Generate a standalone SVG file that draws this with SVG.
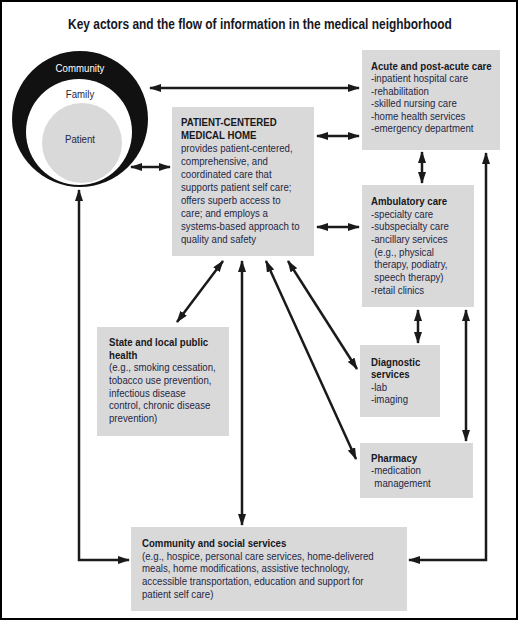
<svg xmlns="http://www.w3.org/2000/svg" width="519" height="621" viewBox="0 0 519 621">
<style>
.box{fill:#d9d9d9}
.t{font-family:"Liberation Sans",Arial,sans-serif;font-size:11.5px;fill:#1f2744}
.b{font-weight:bold;fill:#17171c}
.ln{fill:none;stroke:#1a1a1a;stroke-width:2.5}
</style>
<defs>
<marker id="ah" markerUnits="userSpaceOnUse" markerWidth="12" markerHeight="8" refX="11" refY="4" orient="auto-start-reverse" viewBox="0 0 12 8">
<path d="M0,0 L12,4 L0,8 Z" fill="#1a1a1a"/>
</marker>
</defs>
<rect x="1" y="1" width="516" height="618" fill="#fff" stroke="#000" stroke-width="2"/>
<text transform="translate(260,29) scale(0.77,1)" text-anchor="middle" font-family="Liberation Sans,Arial,sans-serif" font-weight="bold" font-size="15.5" fill="#17171c">Key actors and the flow of information in the medical neighborhood</text>

<g id="circles">
<circle cx="80" cy="119" r="68" fill="#111"/>
<circle cx="79" cy="132" r="53" fill="#fff"/>
<circle cx="82" cy="143" r="40" fill="#d9d9d9"/>
<text class="t" text-anchor="middle" style="fill:#fff" transform="translate(80,72) scale(0.84,1)">Community</text>
<text class="t" text-anchor="middle" transform="translate(80,98) scale(0.84,1)">Family</text>
<text class="t" text-anchor="middle" transform="translate(80,143) scale(0.84,1)">Patient</text>
</g>

<g id="acute">
<rect class="box" x="362" y="50" width="138" height="100"/>
<text class="t" transform="translate(371,70) scale(0.84,1)">
<tspan class="b" x="0" y="0">Acute and post-acute care</tspan>
<tspan x="0" y="12.5">-inpatient hospital care</tspan>
<tspan x="0" y="25">-rehabilitation</tspan>
<tspan x="0" y="37.5">-skilled nursing care</tspan>
<tspan x="0" y="50">-home health services</tspan>
<tspan x="0" y="62.5">-emergency department</tspan>
</text>
</g>

<g id="pcmh">
<rect class="box" x="172" y="107" width="142" height="149"/>
<text class="t" transform="translate(181,126) scale(0.84,1)">
<tspan class="b" x="0" y="0">PATIENT-CENTERED</tspan>
<tspan class="b" x="0" y="13">MEDICAL HOME</tspan>
<tspan x="0" y="26">provides patient-centered,</tspan>
<tspan x="0" y="39">comprehensive, and</tspan>
<tspan x="0" y="52">coordinated care that</tspan>
<tspan x="0" y="65">supports patient self care;</tspan>
<tspan x="0" y="78">offers superb access to</tspan>
<tspan x="0" y="91">care; and employs a</tspan>
<tspan x="0" y="104">systems-based approach to</tspan>
<tspan x="0" y="117">quality and safety</tspan>
</text>
</g>

<g id="ambulatory">
<rect class="box" x="362" y="185" width="112" height="122"/>
<text class="t" transform="translate(371,205) scale(0.84,1)">
<tspan class="b" x="0" y="0">Ambulatory care</tspan>
<tspan x="0" y="12.7">-specialty care</tspan>
<tspan x="0" y="25.4">-subspecialty care</tspan>
<tspan x="0" y="38.1">-ancillary services</tspan>
<tspan x="4" y="50.8">(e.g., physical</tspan>
<tspan x="4" y="63.5">therapy, podiatry,</tspan>
<tspan x="4" y="76.2">speech therapy)</tspan>
<tspan x="0" y="88.9">-retail clinics</tspan>
</text>
</g>

<g id="public-health">
<rect class="box" x="97" y="327" width="132" height="109"/>
<text class="t" transform="translate(109,346) scale(0.84,1)">
<tspan class="b" x="0" y="0">State and local public</tspan>
<tspan class="b" x="0" y="12.7">health</tspan>
<tspan x="0" y="25.4">(e.g., smoking cessation,</tspan>
<tspan x="0" y="38.1">tobacco use prevention,</tspan>
<tspan x="0" y="50.8">infectious disease</tspan>
<tspan x="0" y="63.5">control, chronic disease</tspan>
<tspan x="0" y="76.2">prevention)</tspan>
</text>
</g>

<g id="diagnostic">
<rect class="box" x="360" y="345" width="80" height="72"/>
<text class="t" transform="translate(371,366) scale(0.84,1)">
<tspan class="b" x="0" y="0">Diagnostic</tspan>
<tspan class="b" x="0" y="12.5">services</tspan>
<tspan x="0" y="25">-lab</tspan>
<tspan x="0" y="37.5">-imaging</tspan>
</text>
</g>

<g id="pharmacy">
<rect class="box" x="360" y="443" width="113" height="55"/>
<text class="t" transform="translate(371,462) scale(0.84,1)">
<tspan class="b" x="0" y="0">Pharmacy</tspan>
<tspan x="0" y="12.5">-medication</tspan>
<tspan x="4" y="25">management</tspan>
</text>
</g>

<g id="community-services">
<rect class="box" x="131" y="527" width="276" height="84"/>
<text class="t" transform="translate(142,547) scale(0.84,1)">
<tspan class="b" x="0" y="0">Community and social services</tspan>
<tspan x="0" y="12.7">(e.g., hospice, personal care services, home-delivered</tspan>
<tspan x="0" y="25.4">meals, home modifications, assistive technology,</tspan>
<tspan x="0" y="38.1">accessible transportation, education and support for</tspan>
<tspan x="0" y="50.8">patient self care)</tspan>
</text>
</g>

<g id="connectors">
<path class="ln" d="M150,88 H359" marker-start="url(#ah)" marker-end="url(#ah)"/>
<path class="ln" d="M131,167 H170" marker-start="url(#ah)" marker-end="url(#ah)"/>
<path class="ln" d="M317,136 H359" marker-start="url(#ah)" marker-end="url(#ah)"/>
<path class="ln" d="M317,227 H359" marker-start="url(#ah)" marker-end="url(#ah)"/>
<path class="ln" d="M422,152 V183" marker-start="url(#ah)" marker-end="url(#ah)"/>
<path class="ln" d="M418,310 V343" marker-start="url(#ah)" marker-end="url(#ah)"/>
<path class="ln" d="M466,310 V441" marker-start="url(#ah)" marker-end="url(#ah)"/>
<path class="ln" d="M409,560 H486 V153" marker-start="url(#ah)" marker-end="url(#ah)"/>
<path class="ln" d="M79,190 V560 H129" marker-start="url(#ah)" marker-end="url(#ah)"/>
<path class="ln" d="M223,261 L177,322" marker-start="url(#ah)" marker-end="url(#ah)"/>
<path class="ln" d="M242,261 V525" marker-start="url(#ah)" marker-end="url(#ah)"/>
<path class="ln" d="M266,261 L356,459" marker-start="url(#ah)" marker-end="url(#ah)"/>
<path class="ln" d="M288,261 L357,369" marker-start="url(#ah)" marker-end="url(#ah)"/>
</g>
</svg>
